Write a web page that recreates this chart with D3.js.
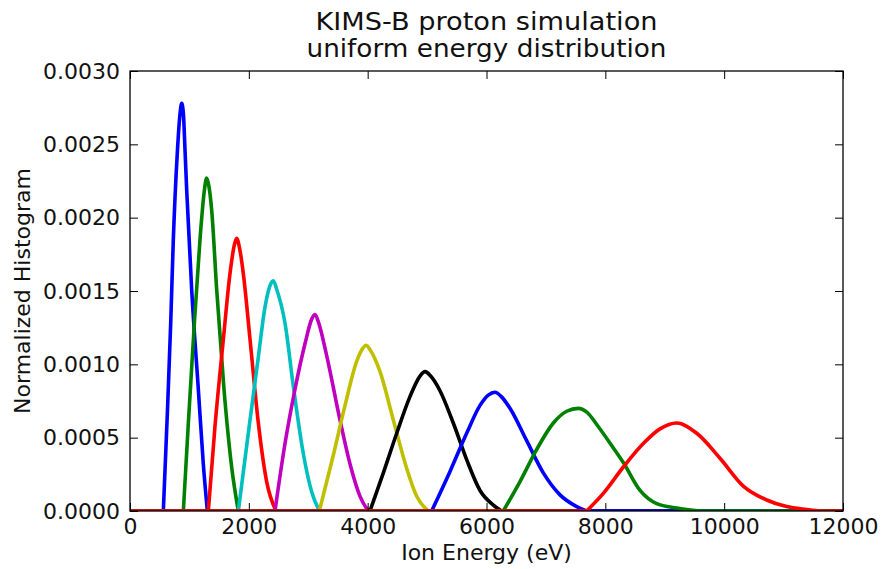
<!DOCTYPE html>
<html>
<head>
<meta charset="utf-8">
<script src="https://cdn.jsdelivr.net/npm/d3@7"></script>
<style>
  html, body { margin: 0; padding: 0; background: #fff; }
  svg { display: block; }
  text { font-family: "DejaVu Sans", sans-serif; fill: #111; }
</style>
</head>
<body>
<svg id="chart" width="881" height="569"></svg>
<script>
// ---- data (energy in eV, normalized histogram value) ----
const xTicks = [0, 2000, 4000, 6000, 8000, 10000, 12000];
const yTicks = [0, 0.0005, 0.001, 0.0015, 0.002, 0.0025, 0.003];
const yTickLabels = ["0.0000", "0.0005", "0.0010", "0.0015", "0.0020", "0.0025", "0.0030"];
const titleLines = ["KIMS-B proton simulation", "uniform energy distribution"];
const xLabel = "Ion Energy (eV)";
const yLabel = "Normalized Histogram";
const colors = ["#0000ff", "#008000", "#ff0000", "#00bfbf", "#bf00bf", "#bfbf00", "#000000", "#0000ff", "#008000", "#ff0000"];

const series1 = [[0,0],[561,0],[628,0.00066],[685,0.00128],[729,0.00185],[796,0.00244],[840,0.0027],[870,0.00278],[900,0.0027],[926,0.00246],[954,0.00219],[1038,0.00151],[1150,0.00083],[1234,0.00032],[1302,0],[12000,0]];
const series2 = [[0,0],[898,0],[982,0.0006],[1083,0.00128],[1178,0.00185],[1250,0.00218],[1290,0.00227],[1330,0.00221],[1375,0.00205],[1459,0.00151],[1582,0.00083],[1711,0.0003],[1823,0],[12000,0]];
const series3 = [[0,0],[1318,0],[1431,0.00058],[1571,0.00117],[1683,0.00162],[1760,0.00182],[1795,0.00186],[1840,0.0018],[1907,0.00162],[2020,0.00117],[2160,0.0006],[2300,0.0002],[2457,0],[12000,0]];
const series4 = [[0,0],[1823,0],[2020,0.00062],[2160,0.00105],[2272,0.00139],[2370,0.00155],[2412,0.00157],[2470,0.00151],[2609,0.00128],[2749,0.00085],[2917,0.00039],[3058,0.00013],[3187,0],[12000,0]];
const series5 = [[0,0],[2440,0],[2609,0.00046],[2777,0.00083],[2945,0.00114],[3060,0.00131],[3114,0.00134],[3170,0.00129],[3310,0.00106],[3534,0.00062],[3703,0.00032],[3871,0.0001],[4011,0],[12000,0]];
const series6 = [[0,0],[3187,0],[3422,0.00038],[3619,0.00072],[3815,0.00102],[3920,0.00111],[3972,0.00113],[4040,0.0011],[4208,0.00095],[4432,0.00062],[4657,0.00029],[4825,0.0001],[5021,0],[12000,0]];
const series7 = [[0,0],[4039,0],[4264,0.00026],[4489,0.00053],[4712,0.00078],[4881,0.00092],[4965,0.00095],[5060,0.00092],[5217,0.00082],[5441,0.0006],[5666,0.00035],[5891,0.00014],[6115,0.00004],[6255,0],[12000,0]];
const series8 = [[0,0],[5077,0],[5386,0.00027],[5666,0.00053],[5891,0.00072],[6030,0.00079],[6143,0.00081],[6250,0.00078],[6395,0.0007],[6676,0.00048],[6956,0.00026],[7237,0.00011],[7518,0.00003],[7686,0],[12000,0]];
const series9 = [[0,0],[6283,0],[6564,0.0002],[6845,0.00042],[7125,0.0006],[7350,0.00068],[7546,0.0007],[7700,0.00067],[7855,0.00059],[8135,0.00043],[8303,0.00033],[8584,0.00014],[8864,0.00005],[9201,0.00002],[9600,0],[12000,0]];
const series10 = [[0,0],[7686,0],[7966,0.00012],[8303,0.0003],[8639,0.00046],[8920,0.00056],[9201,0.0006],[9538,0.00053],[9930,0.00036],[10322,0.00017],[10715,0.000075],[11052,0.00003],[11389,0.00001],[11613,0],[12000,0]];
const allSeries = [series1, series2, series3, series4, series5, series6, series7, series8, series9, series10];

// ---- layout ----
const svg = d3.select("#chart");
const L = 130, R = 843, T = 71, B = 511;
const x = d3.scaleLinear().domain([0, 12000]).range([L, R]);
const y = d3.scaleLinear().domain([0, 0.003]).range([B, T]);

svg.append("defs").append("clipPath").attr("id", "clip")
  .append("rect").attr("x", L).attr("y", T).attr("width", R - L).attr("height", B - T);

const hump = d3.line().x(d => x(d[0])).y(d => y(d[1])).curve(d3.curveMonotoneX);
const flat = d3.line().x(d => x(d[0])).y(d => y(d[1]));
const lines = svg.append("g").attr("clip-path", "url(#clip)");
allSeries.forEach((s, i) => {
  const n = s.length;
  const d = flat(s.slice(0, 2)) + hump(s.slice(1, n - 1)) + flat(s.slice(n - 2));
  lines.append("path").attr("d", d)
    .attr("fill", "none").attr("stroke", colors[i])
    .attr("stroke-width", 3.6).attr("stroke-linejoin", "round").attr("stroke-linecap", "round");
});

// ---- axes (ticks inside on all four sides) ----
const tickLen = 8;
const axB = d3.axisBottom(x).tickValues(xTicks).tickSize(-tickLen).tickPadding(7).tickFormat(d3.format("d"));
const axT = d3.axisTop(x).tickValues(xTicks).tickSize(-tickLen).tickFormat("");
const axL = d3.axisLeft(y).tickValues(yTicks).tickSize(-tickLen).tickPadding(10).tickFormat((d, i) => yTickLabels[i]);
const axR = d3.axisRight(y).tickValues(yTicks).tickSize(-tickLen).tickFormat("");

function style(g) {
  g.select(".domain").remove();
  g.selectAll(".tick line").attr("stroke", "#000").attr("stroke-width", 1);
  g.selectAll(".tick text").style("font-family", "DejaVu Sans, sans-serif").style("font-size", "22px").attr("fill", "#111");
}
svg.append("g").attr("transform", `translate(0,${B})`).call(axB).call(style);
svg.append("g").attr("transform", `translate(0,${T})`).call(axT).call(style);
svg.append("g").attr("transform", `translate(${L},0)`).call(axL).call(style);
svg.append("g").attr("transform", `translate(${R},0)`).call(axR).call(style);

// frame
svg.append("rect").attr("x", L).attr("y", T).attr("width", R - L).attr("height", B - T)
  .attr("fill", "none").attr("stroke", "#000").attr("stroke-width", 1.3);

// ---- titles and labels ----
svg.append("text").attr("x", (L + R) / 2).attr("y", 30).attr("text-anchor", "middle")
  .style("font-size", "24px").attr("textLength", 342).attr("lengthAdjust", "spacingAndGlyphs").text(titleLines[0]);
svg.append("text").attr("x", (L + R) / 2).attr("y", 57).attr("text-anchor", "middle")
  .style("font-size", "24px").attr("textLength", 360).attr("lengthAdjust", "spacingAndGlyphs").text(titleLines[1]);
svg.append("text").attr("x", (L + R) / 2).attr("y", 560).attr("text-anchor", "middle")
  .style("font-size", "22px").text(xLabel);
svg.append("text").attr("transform", `translate(30,${(T + B) / 2}) rotate(-90)`).attr("text-anchor", "middle")
  .style("font-size", "22px").text(yLabel);
</script>
</body>
</html>
